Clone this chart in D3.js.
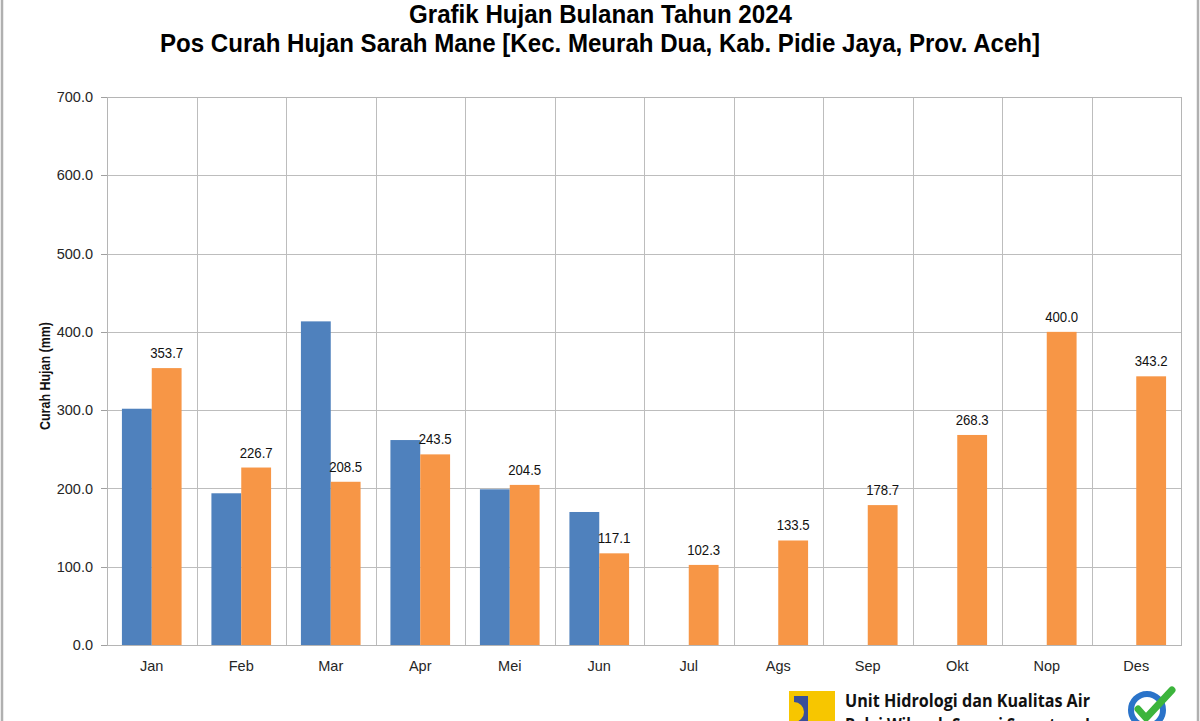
<!DOCTYPE html>
<html><head><meta charset="utf-8">
<script src="https://cdn.jsdelivr.net/npm/d3@7"></script>
<style>
html,body{margin:0;padding:0;background:#fff;}
svg{display:block;font-family:"Liberation Sans",Arial,sans-serif;}
</style></head>
<body>
<svg id="chart" width="1200" height="721"></svg>
<script>
const months = ["Jan","Feb","Mar","Apr","Mei","Jun","Jul","Ags","Sep","Okt","Nop","Des"];
const actual2024 = [301.8,193.8,413.4,261.8,198.9,169.9,null,null,null,null,null,null];
const normal = [353.7,226.7,208.5,243.5,204.5,117.1,102.3,133.5,178.7,268.3,400.0,343.2];
const yTicks = [0,100,200,300,400,500,600,700];
const titleLines = ["Grafik Hujan Bulanan Tahun 2024","Pos Curah Hujan Sarah Mane [Kec. Meurah Dua, Kab. Pidie Jaya, Prov. Aceh]"];
const yTitle = "Curah Hujan (mm)";
const footer = ["Unit Hidrologi dan Kualitas Air","Balai Wilayah Sungai Sumatera I"];

const svg = d3.select("#chart");
const m = {left:107, right:1181, top:97, bottom:645};
const x = d3.scaleBand().domain(months).range([m.left,m.right]).paddingInner(1/3).paddingOuter(1/6);
const xCat = d3.scaleBand().domain(months).range([m.left,m.right]);
const xs = d3.scaleBand().domain(["a","n"]).range([0,x.bandwidth()]);
const y = d3.scaleLinear().domain([0,700]).range([m.bottom,m.top]);

// outer frame sides
svg.append("line").attr("x1",2).attr("x2",2).attr("y1",0).attr("y2",721).attr("stroke","#b0b0b0").attr("stroke-width",2.5);
svg.append("line").attr("x1",1198).attr("x2",1198).attr("y1",0).attr("y2",721).attr("stroke","#b0b0b0").attr("stroke-width",2.5);

// gridlines
const g = svg.append("g");
g.selectAll(".hg").data(yTicks).join("line")
 .attr("x1",m.left).attr("x2",m.right).attr("y1",d=>Math.round(y(d))+0.5).attr("y2",d=>Math.round(y(d))+0.5)
 .attr("stroke","#bdbdbd").attr("stroke-width",1);
g.selectAll(".vg").data(months.slice(1)).join("line")
 .attr("x1",d=>Math.round(xCat(d))+0.5).attr("x2",d=>Math.round(xCat(d))+0.5)
 .attr("y1",m.top).attr("y2",m.bottom).attr("stroke","#bdbdbd");
g.append("rect").attr("x",m.left+0.5).attr("y",m.top+0.5).attr("width",m.right-m.left).attr("height",m.bottom-m.top)
 .attr("fill","none").attr("stroke","#b5b5b5");

// y ticks
g.selectAll(".yt").data(yTicks).join("line")
 .attr("x1",m.left-6).attr("x2",m.left).attr("y1",d=>Math.round(y(d))+0.5).attr("y2",d=>Math.round(y(d))+0.5)
 .attr("stroke","#a0a0a0");
g.selectAll(".ytl").data(yTicks).join("text")
 .attr("x",93).attr("y",d=>y(d)).attr("dy","0.35em").attr("text-anchor","end")
 .attr("font-size",14.5).attr("fill","#262626").text(d=>d3.format(".1f")(d));

// bars
const bars = svg.append("g");
months.forEach((mo,i)=>{
  if(actual2024[i]!=null){
    bars.append("rect").attr("x",x(mo)+xs("a")).attr("width",xs.bandwidth())
     .attr("y",y(actual2024[i])).attr("height",y(0)-y(actual2024[i])).attr("fill","#4f81bd");
  }
  bars.append("rect").attr("x",x(mo)+xs("n")).attr("width",xs.bandwidth())
   .attr("y",y(normal[i])).attr("height",y(0)-y(normal[i])).attr("fill","#f79646");
  bars.append("text").attr("x",x(mo)+xs("n")+xs.bandwidth()/2).attr("y",y(normal[i])-10)
   .attr("text-anchor","middle").attr("font-size",15).attr("fill","#111")
   .attr("textLength",33).attr("lengthAdjust","spacingAndGlyphs").text(d3.format(".1f")(normal[i]));
});

// x labels
svg.selectAll(".xl").data(months).join("text")
 .attr("x",d=>xCat(d)+xCat.bandwidth()/2).attr("y",671).attr("text-anchor","middle")
 .attr("font-size",14.5).attr("fill","#262626").text(d=>d);

// y title
svg.append("text").attr("transform","translate(50,376) rotate(-90)").attr("text-anchor","middle")
 .attr("font-size",14).attr("font-weight","bold").attr("fill","#111")
 .attr("textLength",108).attr("lengthAdjust","spacingAndGlyphs").text(yTitle);

// titles
svg.append("text").attr("x",409).attr("y",23).attr("font-size",25).attr("font-weight","bold")
 .attr("textLength",383).attr("lengthAdjust","spacingAndGlyphs").text(titleLines[0]);
svg.append("text").attr("x",160).attr("y",52).attr("font-size",25).attr("font-weight","bold")
 .attr("textLength",880).attr("lengthAdjust","spacingAndGlyphs").text(titleLines[1]);

// footer logo
const lg = svg.append("g");
lg.append("rect").attr("x",789).attr("y",691).attr("width",46).attr("height",40).attr("fill","#f7c600");
lg.append("rect").attr("x",794).attr("y",696).attr("width",14).attr("height",30).attr("fill","#3a4f9a");
lg.append("path").attr("d","M794,702 A10,10 0 0 1 794,722 Z").attr("fill","#f7c600");
svg.append("text").attr("x",845).attr("y",707).attr("font-family","'Open Sans',Lato,sans-serif").attr("font-weight","bold")
 .attr("font-size",17).attr("textLength",245).attr("lengthAdjust","spacingAndGlyphs").attr("fill","#111").text(footer[0]);
svg.append("text").attr("x",845).attr("y",731).attr("font-family","'Open Sans',Lato,sans-serif").attr("font-weight","bold")
 .attr("font-size",17).attr("textLength",245).attr("lengthAdjust","spacingAndGlyphs").attr("fill","#111").text(footer[1]);
// ISO badge
const iso = svg.append("g").attr("transform","translate(1147,710)");
iso.append("circle").attr("r",16).attr("fill","#fff").attr("stroke","#2a73c9").attr("stroke-width",6);
iso.append("path").attr("d","M-9,-1 L-1,8 L25,-20").attr("fill","none").attr("stroke","#3cb43c").attr("stroke-width",7).attr("stroke-linecap","round").attr("stroke-linejoin","round");
</script>
</body></html>
